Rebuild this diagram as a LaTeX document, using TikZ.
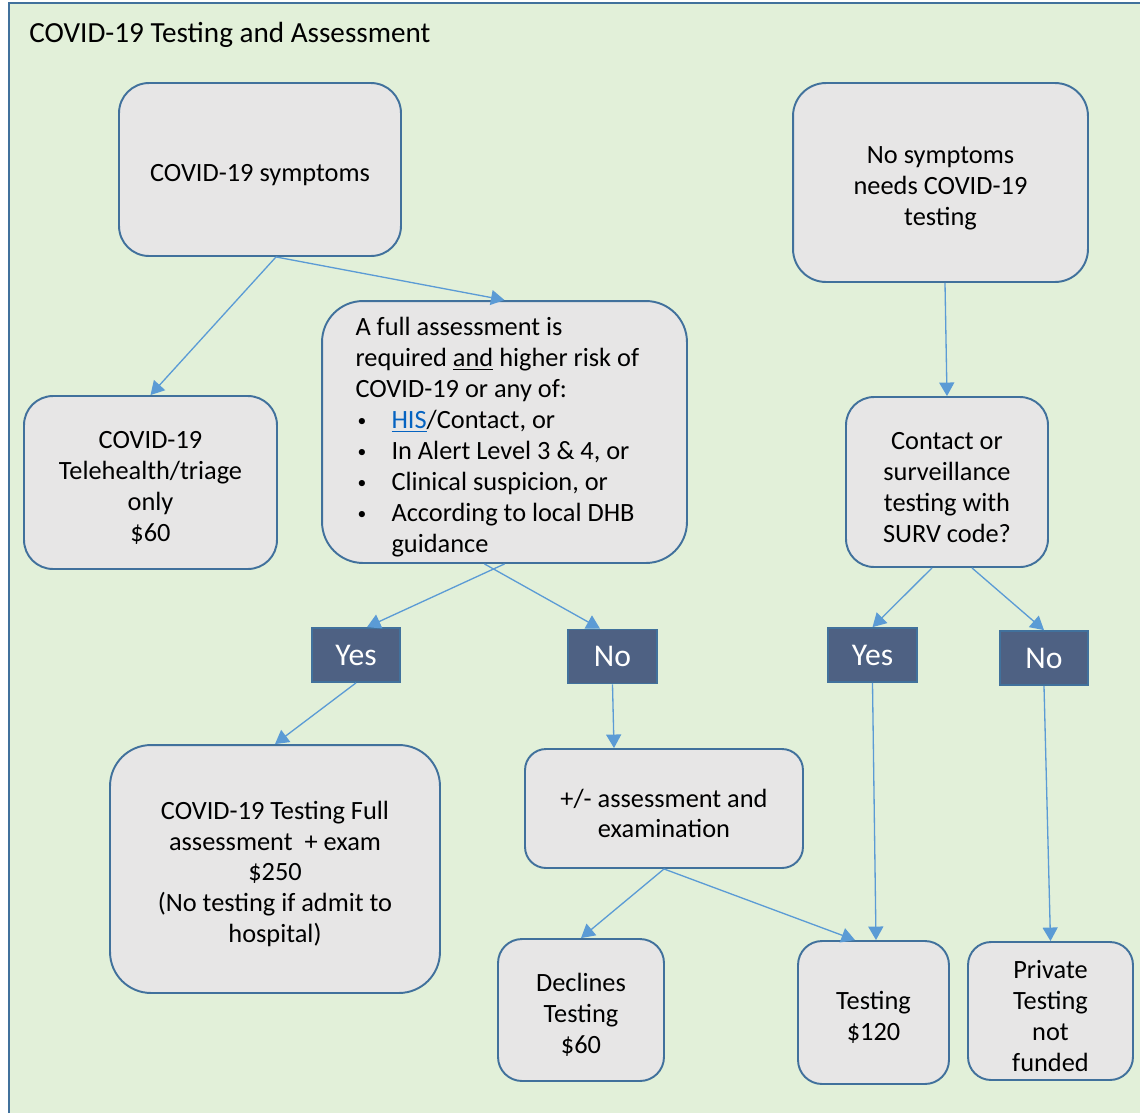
\documentclass[tikz,border=0pt]{standalone}
\usepackage{fontspec}
\setmainfont{Carlito}
\usetikzlibrary{arrows.meta}
\definecolor{framebg}{HTML}{E2F0D9}
\definecolor{boxgray}{HTML}{E7E6E6}
\definecolor{edgeblue}{HTML}{41719C}
\definecolor{arrowblue}{HTML}{5B9BD5}
\definecolor{answer}{HTML}{4E6183}
\definecolor{linkblue}{HTML}{0563C1}
\newcommand{\itemdot}[1]{\makebox[0.72cm][l]{\hspace{0.04cm}{\fontsize{10}{12}\selectfont\raisebox{0.25ex}{\textbullet}}}#1}
\newcommand{\stagestart}{\spaceskip=\fontdimen2\font\relax\rule{0pt}{16pt}}

\begin{document}
\begin{tikzpicture}[x=0.02cm, y=-0.02cm,
    stage/.style={draw=edgeblue, line width=1.1pt, fill=boxgray, rounded corners=#1, align=center, inner sep=0pt,
        font=\fontsize{15}{17.6}\selectfont, execute at begin node=\stagestart},
    stage/.default=0.55cm,
    answerbox/.style={draw=edgeblue, line width=1pt, fill=answer, text=white, minimum width=1.77cm, minimum height=1.08cm, inner sep=0pt, font=\fontsize{18}{20}\selectfont},
    flow/.style={draw=arrowblue, line width=0.75pt, -{Triangle[length=0.27cm, width=0.3cm]}}]
    \useasboundingbox (0,0) rectangle (1140,1113);
    %the background frame
    \fill[framebg] (9,3) rectangle (1140,1113);
    \draw[edgeblue, line width=1.2pt] (9,1113) -- (9,3) -- (1140,3);
    \node[anchor=west, inner sep=0pt, font=\fontsize{16.6}{19}\selectfont] (title) at (29,35) {COVID-19 Testing and Assessment};
    %the stages
    \node[stage=0.6cm, minimum width=5.64cm, minimum height=3.46cm, text width=5.2cm] (sym) at (260,169.5) {COVID-19 symptoms};
    \node[stage=0.66cm, minimum width=5.9cm, minimum height=3.98cm, text width=5.4cm] (nosym) at (940.5,182.5) {No symptoms\\ needs COVID-19\\ testing};
    \node[stage=0.58cm, minimum width=5.06cm, minimum height=3.46cm, text width=4.6cm] (tele) at (150.5,482.5) {COVID-19\\ Telehealth/triage\\ only\\ \$60};
    \node[stage=0.82cm, minimum width=7.3cm, minimum height=5.24cm, text width=6.3cm, align=left] (full) at (504.5,432)
        {\leftskip=0.17cm A full assessment is\\ required \underline{and} higher risk of\\ COVID-19 or any of:\\
        \itemdot{\textcolor{linkblue}{\underline{HIS}}/Contact, or}\\ \itemdot{In Alert Level 3 \& 4, or}\\
        \itemdot{Clinical suspicion, or}\\ \itemdot{According to local DHB}\\ \makebox[0.72cm]{}guidance\par};
    \node[stage=0.56cm, minimum width=4.04cm, minimum height=3.4cm, text width=3.7cm] (surv) at (947,482) {Contact or\\ surveillance\\ testing with\\ SURV code?};
    \node[stage=0.82cm, minimum width=6.6cm, minimum height=4.96cm, text width=6.1cm] (fulltest) at (275,869) {COVID-19 Testing Full\\ assessment~ + exam\\ \$250\\ (No testing if admit to\\ hospital)};
    \node[stage=0.42cm, minimum width=5.56cm, minimum height=2.38cm, text width=5.1cm] (exam) at (664,808.5) {+/- assessment and\\ examination};
    \node[stage=0.48cm, minimum width=3.32cm, minimum height=2.84cm, text width=2.9cm] (decl) at (581,1010) {Declines\\ Testing\\ \$60};
    \node[stage=0.48cm, minimum width=3.02cm, minimum height=2.86cm, text width=2.6cm] (test) at (873.5,1012.5) {Testing\\ \$120};
    \node[stage=0.46cm, minimum width=3.3cm, minimum height=2.76cm, text width=2.9cm] (priv) at (1050.5,1011) {Private\\ Testing\\ not\\ funded};
    %the answers
    \node[answerbox] (yesA) at (356,655) {Yes};
    \node[answerbox] (noA) at (612.5,656.5) {No};
    \node[answerbox] (yesB) at (872.5,655) {Yes};
    \node[answerbox] (noB) at (1044,658) {No};
    %the connectors
    \draw[flow] ([xshift=0.32cm]sym.south) -- (tele.north);
    \draw[flow] ([xshift=0.32cm]sym.south) -- (full.north);
    \draw[flow] ([xshift=0.09cm]nosym.south) -- (surv.north);
    \draw[flow] (full.south) -- ([xshift=0.22cm]yesA.north);
    \draw[flow] ([xshift=-0.4cm]full.south) -- ([xshift=-0.25cm]noA.north);
    \draw[flow] (yesA.south) -- (fulltest.north);
    \draw[flow] (noA.south) -- ([xshift=-1cm]exam.north);
    \draw[flow] ([xshift=-0.3cm]surv.south) -- (yesB.north);
    \draw[flow] ([xshift=0.5cm]surv.south) -- (noB.north);
    \draw[flow] (yesB.south) -- ([xshift=0.05cm]test.north);
    \draw[flow] (noB.south) -- (priv.north);
    \draw[flow] (exam.south) -- (decl.north);
    \draw[flow] (exam.south) -- ([xshift=-0.37cm]test.north);
\end{tikzpicture}
\end{document}
